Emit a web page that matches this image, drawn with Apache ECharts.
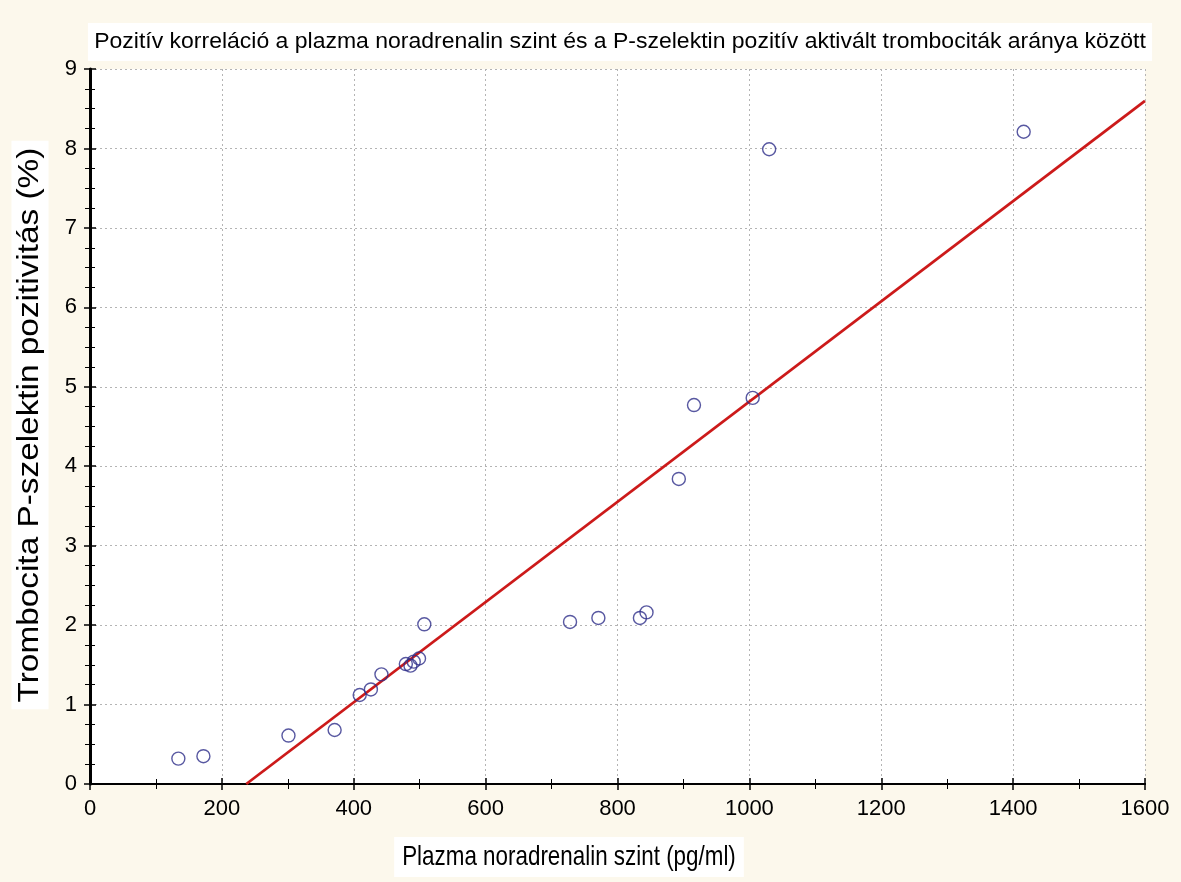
<!DOCTYPE html>
<html>
<head>
<meta charset="utf-8">
<script src="https://cdn.jsdelivr.net/npm/echarts@6/dist/echarts.min.js"></script>
<style>
html,body{margin:0;padding:0;background:#fcf8ec;}
#c{width:1181px;height:882px;}
</style>
</head>
<body>
<div id="c"></div>
<script>
// Data: plasma noradrenaline (pg/ml) vs platelet P-selectin positivity (%)
const noradrenalin = [134, 172, 301, 371, 409, 426, 442, 479, 486, 491, 499, 507, 728, 771, 834, 844, 893, 916, 1005, 1030, 1416];
const pSelectin    = [0.32, 0.35, 0.61, 0.68, 1.12, 1.19, 1.38, 1.51, 1.49, 1.54, 1.58, 2.01, 2.04, 2.09, 2.09, 2.16, 3.84, 4.77, 4.86, 7.99, 8.21];
// Regression line end points
const fitX = [237, 1600];
const fitY = [0, 8.6];

const titleText = 'Pozitív korreláció a plazma noradrenalin szint és a P-szelektin pozitív aktivált trombociták aránya között';
const xName = 'Plazma noradrenalin szint (pg/ml)';
const yName = 'Trombocita P-szelektin pozitivitás (%)';

const points = noradrenalin.map((x, i) => [x, pSelectin[i]]);
const fit = fitX.map((x, i) => [x, fitY[i]]);

const font = '"Liberation Sans", Arial, sans-serif';
const chart = echarts.init(document.getElementById('c'), null, {renderer: 'canvas'});
const common = {
  axisLine: {show: true, lineStyle: {color: '#000', width: 2}},
  axisTick: {show: true, inside: true, length: 6, lineStyle: {color: '#000', width: 1.5}},
};
chart.setOption({
  backgroundColor: '#fcf8ec',
  animation: false,
  grid: {left: 90, right: 36, top: 69, bottom: 98, backgroundColor: '#fff', show: true, borderWidth: 0},
  graphic: [
    {
      type: 'text', z: 10,
      x: 620, y: 42, scaleX: 1.045,
      style: {
        text: titleText, font: '22px ' + font, fill: '#000',
        align: 'center', verticalAlign: 'middle',
        backgroundColor: '#fff', padding: [8, 6, 8, 6]
      }
    },
    {
      type: 'text', z: 10,
      x: 569, y: 857, scaleX: 0.8,
      style: {
        text: xName, font: '28px ' + font, fill: '#000',
        align: 'center', verticalAlign: 'middle',
        backgroundColor: '#fff', padding: [6, 10, 6, 10]
      }
    },
    {
      type: 'text', z: 10,
      x: 30, y: 425, rotation: Math.PI / 2, scaleX: 1.15,
      style: {
        text: yName, font: '29px ' + font, fill: '#000',
        align: 'center', verticalAlign: 'middle',
        backgroundColor: '#fff', padding: [4, 6, 4, 6]
      }
    }
  ],
  xAxis: [
    Object.assign({}, common, {
      type: 'value', min: 0, max: 1600, interval: 200, position: 'bottom',
      minorTick: {show: true, splitNumber: 2, length: 5, lineStyle: {color: '#000'}},
      axisLabel: {fontFamily: font, fontSize: 22, color: '#000', margin: 14, formatter: v => String(v)},
      splitLine: {show: true, lineStyle: {color: '#b4b4b4', type: [2, 3], width: 1}}
    }),
    Object.assign({}, common, {
      type: 'value', min: 0, max: 1600, interval: 200, position: 'top',
      minorTick: {show: true, splitNumber: 2, length: 5, lineStyle: {color: '#000'}},
      axisLabel: {show: false}, splitLine: {show: false}
    })
  ],
  yAxis: [
    Object.assign({}, common, {
      type: 'value', min: 0, max: 9, interval: 1, position: 'left',
      minorTick: {show: true, splitNumber: 4, length: 5, lineStyle: {color: '#000'}},
      axisLabel: {fontFamily: font, fontSize: 22, color: '#000', margin: 13, formatter: v => String(v)},
      splitLine: {show: true, lineStyle: {color: '#b4b4b4', type: [2, 3], width: 1}}
    }),
    Object.assign({}, common, {
      type: 'value', min: 0, max: 9, interval: 1, position: 'right',
      axisLine: {show: true, lineStyle: {color: '#000', width: 3}},
      minorTick: {show: true, splitNumber: 4, length: 5, lineStyle: {color: '#000'}},
      axisLabel: {show: false}, splitLine: {show: false}
    })
  ],
  series: [
    {
      type: 'line', data: fit, xAxisIndex: 0, yAxisIndex: 0,
      showSymbol: false, symbol: 'none',
      lineStyle: {color: '#cc1a1a', width: 2.8}, z: 3
    },
    {
      type: 'scatter', data: points, xAxisIndex: 0, yAxisIndex: 0,
      symbol: 'circle', symbolSize: 13,
      itemStyle: {color: 'rgba(255,255,255,0)', borderColor: '#2e2e8a', borderWidth: 1.4}, z: 4
    }
  ]
});
</script>
</body>
</html>
